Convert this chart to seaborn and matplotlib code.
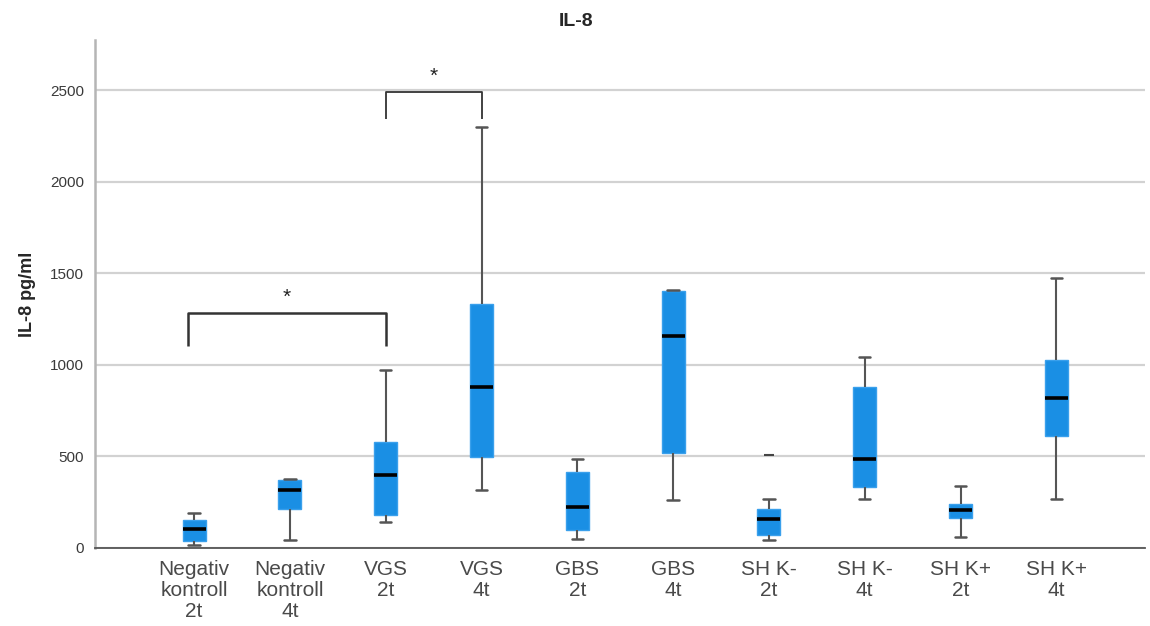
import numpy as np
import pandas as pd
import matplotlib
matplotlib.use("Agg")
import matplotlib.pyplot as plt
import seaborn as sns

# groups and five-number summaries (pg/ml)
groups = ["Negativ\nkontroll\n2t", "Negativ\nkontroll\n4t", "VGS\n2t", "VGS\n4t",
          "GBS\n2t", "GBS\n4t", "SH K-\n2t", "SH K-\n4t", "SH K+\n2t", "SH K+\n4t"]
mins    = [16, 44, 142, 317, 49, 262, 44, 267, 60, 267]
q1s     = [38, 213, 180, 497, 98, 518, 71, 333, 164, 611]
medians = [104, 317, 398, 876, 224, 1157, 158, 486, 207, 819]
q3s     = [153, 371, 579, 1332, 415, 1403, 211, 878, 240, 1026]
maxs    = [191, 377, 972, 2298, 486, 1408, 267, 1044, 339, 1474]

# single outlier mark
outlier_group = [6]
outlier_value = [505]

box_color = "#1A8FE4"

rows = []
for g, a, b, c, d, e in zip(groups, mins, q1s, medians, q3s, maxs):
    for v in (a, b, c, d, e):
        rows.append({"group": g, "value": v})
df = pd.DataFrame(rows)

sns.set_style("white")
plt.rcParams['font.family'] = ['Liberation Sans', 'DejaVu Sans']

fig = plt.figure(figsize=(11.5, 6.26), dpi=100)
ax = fig.add_axes([0.083, 0.125, 0.913, 0.811])

ax.yaxis.grid(True, color="#d2d2d2", linewidth=1.6, zorder=0)
ax.set_axisbelow(True)

sns.boxplot(data=df, x="group", y="value", order=groups, whis=(0, 100),
            width=0.24, color=box_color, saturation=1, ax=ax,
            boxprops=dict(edgecolor="#3aa0ec", linewidth=1),
            medianprops=dict(color="black", linewidth=2.6),
            whiskerprops=dict(color="#555555", linewidth=1.5),
            capprops=dict(color="#555555", linewidth=1.8),
            showfliers=False)

ax.plot(outlier_group, outlier_value, marker="_", color="#444444",
        markersize=7, markeredgewidth=1.5, linestyle="none")

# significance brackets
def bracket(x0, x1, ybot, ytop, ystar, lw):
    ax.plot([x0, x0, x1, x1], [ybot, ytop, ytop, ybot], color="#333333",
            linewidth=lw, solid_joinstyle="round", solid_capstyle="butt")
    ax.text((x0 + x1) / 2, ystar, "*", ha="center", va="center",
            fontsize=15, color="#222222")

bracket(-0.06, 2.0, 1100, 1283, 1370, 1.8)
bracket(2.0, 3.0, 2340, 2489, 2575, 1.3)

ax.set_xlim(-1.03, 9.93)
ax.set_ylim(0, 2773)
ax.set_yticks([0, 500, 1000, 1500, 2000, 2500])
ax.tick_params(axis="y", labelsize=11, labelcolor="#3a3a3a", length=0, pad=8)
ax.tick_params(axis="x", labelsize=15, labelcolor="#4a4a4a", length=0, pad=9)
for lab in ax.get_xticklabels():
    lab.set_linespacing(1.12)

ax.set_xlabel("")
ax.set_ylabel("IL-8 pg/ml", fontsize=13, fontweight="bold", labelpad=10)
# title sits over the figure centre, not the axes centre
ax.set_title("IL-8", fontsize=14, fontweight="bold", pad=10, x=0.458)

sns.despine(ax=ax, top=True, right=True)
ax.spines["left"].set_color("#b5b5b5")
ax.spines["left"].set_linewidth(1.8)
ax.spines["bottom"].set_color("#555555")
ax.spines["bottom"].set_linewidth(1.3)

fig.savefig("out.png", dpi=100)
